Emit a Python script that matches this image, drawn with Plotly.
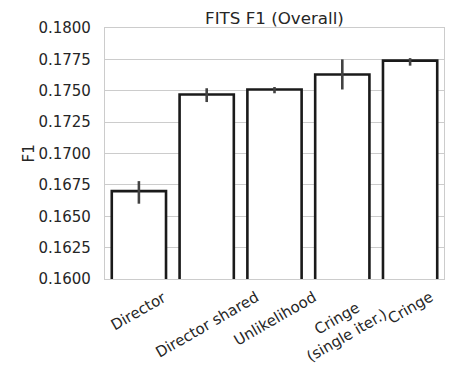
import plotly.graph_objects as go

categories = ["Director", "Director shared", "Unlikelihood", "Cringe<br>(single iter.)", "Cringe"]
f1_values = [0.1670, 0.1747, 0.1751, 0.1763, 0.1774]
ci_lower = [0.1660, 0.1741, 0.1748, 0.1751, 0.1770]
ci_upper = [0.1678, 0.1752, 0.1753, 0.1775, 0.1776]
y_ticks = [0.1600, 0.1625, 0.1650, 0.1675, 0.1700, 0.1725, 0.1750, 0.1775, 0.1800]

txt = "#262626"
font = dict(family="DejaVu Sans", size=15, color=txt)
title_font = dict(family="DejaVu Sans", size=16.7, color=txt)

# page body has an 8px margin; figure sized to fit the 454x371 window
W, H = 446, 363
ML, MR, MT, MB = 97, 10, 20, 92

fig = go.Figure()
fig.add_trace(go.Bar(
    x=list(range(len(categories))),
    y=f1_values,
    width=0.8,
    marker=dict(color="white", line=dict(color="#1a1a1a", width=2.6)),
    error_y=dict(
        type="data",
        symmetric=False,
        array=[u - v for u, v in zip(ci_upper, f1_values)],
        arrayminus=[v - l for v, l in zip(f1_values, ci_lower)],
        color="#424242",
        thickness=2.6,
        width=0,
    ),
    showlegend=False,
))

for i, c in enumerate(categories):
    fig.add_annotation(
        x=i, xref="x", y=0, yref="paper", yshift=-6,
        text=c, textangle=-30, showarrow=False,
        xanchor="center", yanchor="top",
        font=font, align="center",
    )

# y-axis title
fig.add_annotation(
    x=0, xref="paper", xshift=-77, y=0.5, yref="paper",
    text="F1", textangle=-90, showarrow=False,
    xanchor="center", yanchor="middle", font=font,
)

fig.update_layout(
    width=W, height=H,
    margin=dict(l=ML, r=MR, t=MT, b=MB, autoexpand=False),
    paper_bgcolor="white", plot_bgcolor="white",
    font=font,
    title=dict(text="FITS F1 (Overall)", xref="paper", x=0.5, xanchor="center",
               y=1 - 10 / H, yanchor="middle", font=title_font, automargin=False),
    bargap=0.2,
)
fig.update_xaxes(
    range=[-0.5, len(categories) - 0.5],
    tickvals=list(range(len(categories))),
    showticklabels=False, showgrid=False, zeroline=False, automargin=False,
    showline=True, linecolor="#cccccc", linewidth=1.2, mirror=True, ticks="",
)
fig.update_yaxes(
    range=[0.16, 0.18],
    tickvals=y_ticks,
    ticktext=[f"{t:.4f}" for t in y_ticks],
    showgrid=True, gridcolor="#cccccc", gridwidth=1, automargin=False,
    zeroline=False, showline=True, linecolor="#cccccc", linewidth=1.2, mirror=True,
    ticks="", ticklabelstandoff=10,
)

fig.write_html("out.html")
